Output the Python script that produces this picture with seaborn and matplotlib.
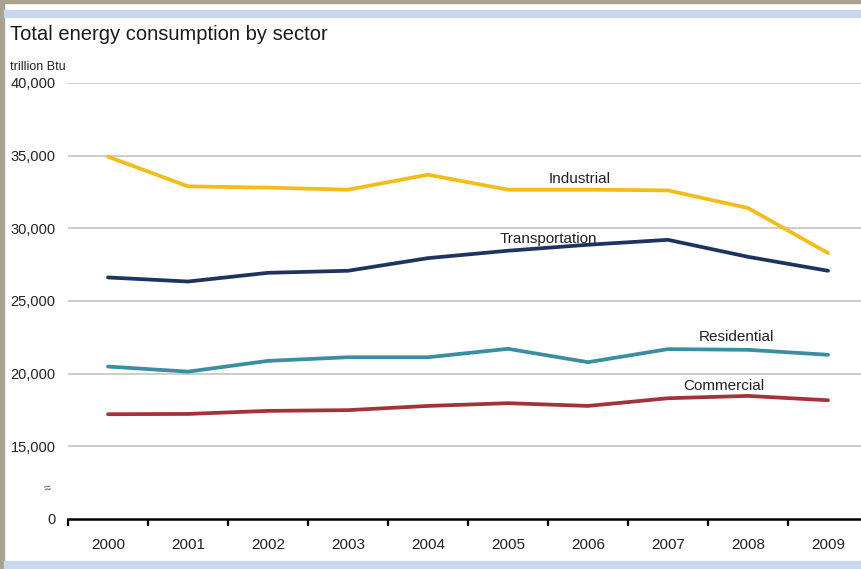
import matplotlib
matplotlib.use("Agg")
import matplotlib.pyplot as plt
from matplotlib.patches import Rectangle
from matplotlib.ticker import FixedLocator
import numpy as np
import pandas as pd
import seaborn as sns

years = [2000, 2001, 2002, 2003, 2004, 2005, 2006, 2007, 2008, 2009]
industrial = [34930, 32890, 32800, 32660, 33690, 32660, 32660, 32610, 31400, 28300]
transportation = [26620, 26340, 26940, 27080, 27950, 28460, 28870, 29210, 28040, 27080]
residential = [20490, 20140, 20880, 21130, 21130, 21710, 20790, 21690, 21640, 21300]
commercial = [17210, 17230, 17440, 17490, 17780, 17970, 17780, 18310, 18470, 18170]

sectors = ["Industrial", "Transportation", "Residential", "Commercial"]
colors = ["#F3BC17", "#1D3461", "#3A8EA2", "#A2333B"]
y_ticks = [10000, 15000, 20000, 25000, 30000, 35000, 40000]
y_tick_labels = ["0", "15,000", "20,000", "25,000", "30,000", "35,000", "40,000"]

df = pd.DataFrame({
    "year": years * 4,
    "value": industrial + transportation + residential + commercial,
    "sector": sum([[s] * len(years) for s in sectors], []),
})

sns.set_style("white")
plt.rcParams["font.family"] = ["Liberation Sans", "DejaVu Sans"]

W, H = 861, 569
fig = plt.figure(figsize=(W / 100, H / 100), dpi=100)
fig.patch.set_facecolor("white")

# frame decoration: khaki edges and light blue bands
def px_rect(x0, y0, x1, y1, color):
    fig.patches.append(Rectangle((x0 / W, 1 - y1 / H), (x1 - x0) / W, (y1 - y0) / H,
                                 transform=fig.transFigure, color=color, zorder=0))

px_rect(0, 0, W, 3, "#A8A391")
px_rect(0, 0, 4, H, "#A8A391")
px_rect(4, 10, W, 17, "#C8D8EE")
px_rect(4, 561, W, H, "#C8D8EE")

ax_left, ax_right, ax_top, ax_bottom = 68, 868, 83, 519
ax = fig.add_axes([ax_left / W, 1 - ax_bottom / H, (ax_right - ax_left) / W, (ax_bottom - ax_top) / H])
ax.set_facecolor("none")

sns.lineplot(data=df, x="year", y="value", hue="sector", hue_order=sectors,
             palette=colors, linewidth=2.7, legend=False, ax=ax, zorder=3)

ax.set_xlim(1999.5, 2009.5)
ax.set_ylim(10000, 40000)
ax.set_xlabel("")
ax.set_ylabel("")

ax.set_yticks(y_ticks)
ax.set_yticklabels(y_tick_labels)
ax.tick_params(axis="y", length=0, pad=9, labelsize=10.5, labelcolor="#222222")

ax.set_xticks(years)
ax.set_xticklabels([str(y) for y in years])
ax.xaxis.set_minor_locator(FixedLocator(np.arange(1999.5, 2010, 1.0)))
ax.tick_params(axis="x", which="major", bottom=True, length=0, pad=14, labelsize=11,
               labelcolor="#222222")
ax.tick_params(axis="x", which="minor", bottom=True, length=5, width=1.6, color="black",
               direction="out")

for y in y_ticks[1:]:
    ax.axhline(y, color="#C4C4C4", linewidth=1.2, zorder=1)

for side in ["left", "right", "top"]:
    ax.spines[side].set_visible(False)
ax.spines["bottom"].set_color("black")
ax.spines["bottom"].set_linewidth(1.8)

# axis break marker
ax.text(-0.025, 12070, "≈", transform=ax.get_yaxis_transform(), ha="center", va="center",
        fontsize=9, color="#444444", rotation=15)

# series labels
label_pos = {
    "Industrial": (2005.9, 33400),
    "Transportation": (2005.5, 29290),
    "Residential": (2007.85, 22520),
    "Commercial": (2007.7, 19150),
}
for name in sectors:
    x, y = label_pos[name]
    ax.text(x, y, name, ha="center", va="center", fontsize=11, color="#222222", zorder=4)

fig.text(10 / W, 1 - 35 / H, "Total energy consumption by sector", ha="left", va="center",
         fontsize=14.5, color="#1a1a1a")
fig.text(10 / W, 1 - 67 / H, "trillion Btu", ha="left", va="center", fontsize=9,
         color="#222222")

fig.savefig("out.png", dpi=100)
